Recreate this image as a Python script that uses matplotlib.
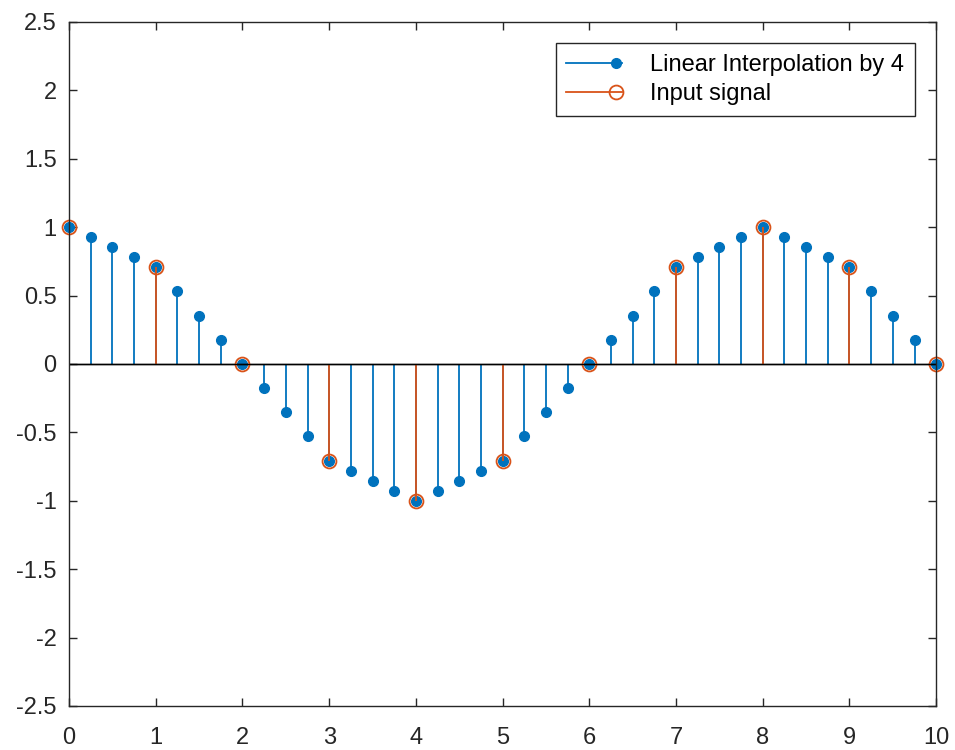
import matplotlib.pyplot as plt
from matplotlib.legend_handler import HandlerBase
from matplotlib.lines import Line2D

plt.rcParams["font.family"] = ["Liberation Sans", "DejaVu Sans"]

# input signal, one sample per unit
input_n = [0, 1, 2, 3, 4, 5, 6, 7, 8, 9, 10]
input_vals = [1.0, 0.707, 0.0, -0.707, -1.0, -0.707, 0.0, 0.707, 1.0, 0.707, 0.0]

# linear interpolation by 4 (step 0.25)
interp_n = [i / 4 for i in range(41)]
interp_vals = [
    1.0, 0.927, 0.854, 0.780, 0.707, 0.530, 0.354, 0.177,
    0.0, -0.177, -0.354, -0.530, -0.707, -0.780, -0.854, -0.927,
    -1.0, -0.927, -0.854, -0.780, -0.707, -0.530, -0.354, -0.177,
    0.0, 0.177, 0.354, 0.530, 0.707, 0.780, 0.854, 0.927,
    1.0, 0.927, 0.854, 0.780, 0.707, 0.530, 0.354, 0.177, 0.0,
]

blue = "#0072BD"
orange = "#D95319"


class StemHandle(HandlerBase):
    # line across the handle box, marker at the right end (MATLAB style)
    def create_artists(self, legend, orig, xdescent, ydescent, width, height, fontsize, trans):
        y = height / 2 - ydescent
        line = Line2D([-xdescent, width - xdescent], [y, y], color=orig.get_color(),
                      linewidth=orig.get_linewidth(), transform=trans)
        mark = Line2D([width - xdescent - 4], [y], linestyle="none", marker="o",
                      markersize=orig.get_markersize(), markerfacecolor=orig.get_markerfacecolor(),
                      markeredgecolor=orig.get_markeredgecolor(),
                      markeredgewidth=orig.get_markeredgewidth(), transform=trans)
        return [line, mark]


fig = plt.figure(figsize=(9.55, 7.5), dpi=100)
ax = fig.add_axes([0.0723, 0.0587, 0.908, 0.912])

m1, s1, b1 = ax.stem(interp_n, interp_vals, linefmt="-", markerfmt="o", basefmt="k-")
plt.setp(s1, color=blue, linewidth=1.3)
plt.setp(m1, color=blue, markersize=7, markerfacecolor=blue, markeredgecolor=blue, clip_on=False)
plt.setp(b1, color="black", linewidth=1.0)

m2, s2, b2 = ax.stem(input_n, input_vals, linefmt="-", markerfmt="o", basefmt="k-")
plt.setp(s2, color=orange, linewidth=1.3)
plt.setp(m2, color=orange, markersize=10, markerfacecolor="none", markeredgecolor=orange,
         markeredgewidth=1.3, clip_on=False)
plt.setp(b2, color="black", linewidth=1.0)

ax.set_xlim(0, 10)
ax.set_ylim(-2.5, 2.5)
ax.set_xticks(range(0, 11))
ax.set_yticks([-2.5, -2, -1.5, -1, -0.5, 0, 0.5, 1, 1.5, 2, 2.5])
ax.set_yticklabels(["-2.5", "-2", "-1.5", "-1", "-0.5", "0", "0.5", "1", "1.5", "2", "2.5"])
ax.tick_params(direction="in", top=True, right=True, labelsize=17, colors="#262626",
               length=6, width=1.0)
ax.tick_params(axis="x", pad=15)
ax.tick_params(axis="y", pad=9)
for sp in ax.spines.values():
    sp.set_color("#262626")
    sp.set_linewidth(1.0)

h1 = Line2D([], [], color=blue, linewidth=1.3, marker="o", markersize=7,
            markerfacecolor=blue, markeredgecolor=blue)
h2 = Line2D([], [], color=orange, linewidth=1.3, marker="o", markersize=10,
            markerfacecolor="none", markeredgecolor=orange, markeredgewidth=1.3)
leg = ax.legend([h1, h2], ["Linear Interpolation by 4", "Input signal"],
                handler_map={Line2D: StemHandle()},
                loc="upper right", fontsize=17, frameon=True, fancybox=False,
                edgecolor="#262626", framealpha=1, borderaxespad=0.9,
                handlelength=2.35, handletextpad=1.2, labelspacing=0.3, borderpad=0.45)
leg.get_frame().set_linewidth(1.0)

fig.savefig("out.png", dpi=100)
